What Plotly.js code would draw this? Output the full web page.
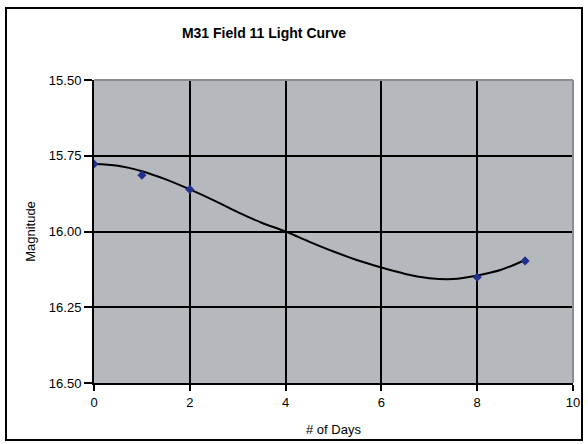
<!DOCTYPE html>
<html>
<head>
<meta charset="utf-8">
<script src="https://cdn.plot.ly/plotly-3.0.1.min.js"></script>
<style>
  html, body { margin: 0; padding: 0; background: #ffffff; }
  #chart { width: 588px; height: 444px; }
</style>
</head>
<body>
<div id="chart"></div>
<script>
// Observed magnitudes by day
const obsDays = [0, 1, 2, 8, 9];
const obsMag = [15.777, 15.814, 15.861, 16.151, 16.097];

// Smooth trend curve through the observations
const trendDays = [0, 0.5, 1, 1.5, 2, 2.5, 3, 3.5, 4, 4.5, 5, 5.5, 6, 6.5, 7, 7.5, 8, 8.5, 9];
const trendMag = [15.777, 15.783, 15.801, 15.828, 15.861, 15.897, 15.936, 15.971, 16.000,
                  16.034, 16.066, 16.095, 16.119, 16.140, 16.154, 16.157, 16.145, 16.126, 16.094];

const xTicks = [0, 2, 4, 6, 8, 10];
const yTicks = [15.50, 15.75, 16.00, 16.25, 16.50];

const W = 588, H = 444;
const M = { l: 94, r: 15, t: 80, b: 61 };
const pw = W - M.l - M.r, ph = H - M.t - M.b;
// pixel -> paper helpers for the outer frame
const px = X => (X - M.l) / pw;
const py = Y => (H - M.b - Y) / ph;

const font = 'Liberation Sans, Arial, sans-serif';

const traces = [
  {
    x: trendDays, y: trendMag, type: 'scatter', mode: 'lines',
    line: { color: '#000000', width: 2, shape: 'spline', smoothing: 1 },
    hoverinfo: 'skip', showlegend: false
  },
  {
    x: obsDays, y: obsMag, type: 'scatter', mode: 'markers',
    marker: { symbol: 'diamond', size: 7, color: '#22308e' },
    showlegend: false
  }
];

const layout = {
  width: W, height: H,
  margin: M,
  paper_bgcolor: '#ffffff',
  plot_bgcolor: '#b5b9bd',
  font: { family: font, color: '#000000', size: 12 },
  title: {
    text: '<b>M31 Field 11 Light Curve</b>',
    font: { family: font, size: 14, color: '#000000' },
    xref: 'container', yref: 'container',
    x: 264 / W, xanchor: 'center',
    y: 1 - 33 / H, yanchor: 'middle'
  },
  xaxis: {
    range: [0, 10],
    tickvals: xTicks,
    ticktext: xTicks.map(String),
    showgrid: true, gridcolor: '#000000', gridwidth: 2,
    zeroline: false,
    showline: true, linecolor: '#000000', linewidth: 2,
    ticks: 'outside', ticklen: 6, tickwidth: 2, tickcolor: '#000000',
    tickfont: { family: font, size: 13 },
    title: { text: '# of Days', font: { family: font, size: 13 }, standoff: 16 }
  },
  yaxis: {
    range: [16.5, 15.5],
    tickvals: yTicks,
    ticktext: yTicks.map(v => v.toFixed(2)),
    showgrid: true, gridcolor: '#000000', gridwidth: 2,
    zeroline: false,
    showline: true, linecolor: '#000000', linewidth: 2,
    ticks: 'outside', ticklen: 8, tickwidth: 2, tickcolor: '#000000',
    tickfont: { family: font, size: 13 },
    title: { text: 'Magnitude', font: { family: font, size: 13 }, standoff: 10 }
  },
  shapes: [
    // grey top and right edges of the plot area
    { type: 'line', xref: 'paper', yref: 'paper', x0: 0, x1: 1, y0: 1, y1: 1,
      line: { color: '#8a8d90', width: 2 }, layer: 'above' },
    { type: 'line', xref: 'paper', yref: 'paper', x0: 1, x1: 1, y0: 0, y1: 1,
      line: { color: '#8a8d90', width: 2 }, layer: 'above' },
    // outer chart frame
    { type: 'rect', xref: 'paper', yref: 'paper',
      x0: px(6), x1: px(582), y0: py(440), y1: py(8),
      line: { color: '#000000', width: 2 }, fillcolor: 'rgba(0,0,0,0)', layer: 'below' }
  ]
};

Plotly.newPlot('chart', traces, layout, { displayModeBar: false, staticPlot: true });
</script>
</body>
</html>
